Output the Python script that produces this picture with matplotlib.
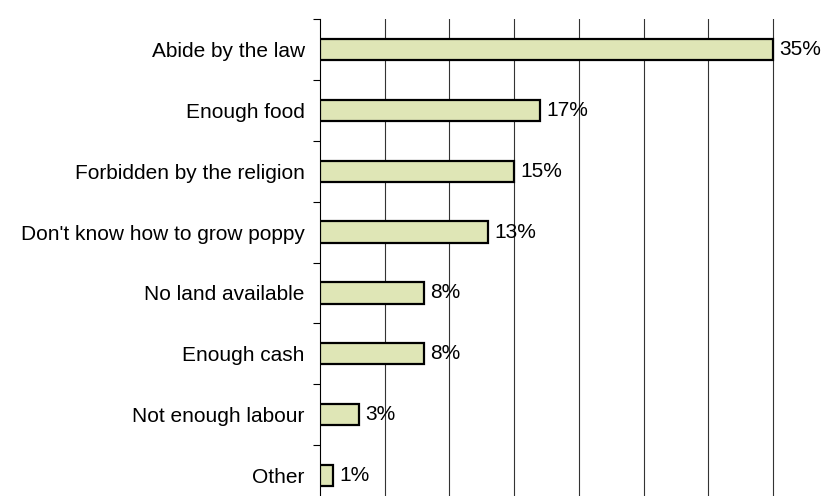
import matplotlib.pyplot as plt
import numpy as np

plt.rcParams['font.family'] = ['Liberation Sans', 'DejaVu Sans']

categories = ['Abide by the law', 'Enough food', 'Forbidden by the religion',
              "Don't know how to grow poppy", 'No land available', 'Enough cash',
              'Not enough labour', 'Other']
values = [35, 17, 15, 13, 8, 8, 3, 1]

fig = plt.figure(figsize=(8.32, 4.96), dpi=100)
ax = fig.add_axes([320/832, 1 - 506/496, (775-320)/832, (506-19)/496])

y = np.arange(len(categories))
ax.barh(y, values, height=0.35, color='#DFE6B6', edgecolor='black', linewidth=1.6, zorder=3)

for yi, v in zip(y, values):
    ax.text(v + 0.5, yi, f'{v}%', va='center', ha='left', fontsize=15, zorder=4)

ax.set_xlim(0, 35 * 455 / 453)
ax.set_ylim(len(categories) - 0.5, -0.5)

ax.set_xticks(np.arange(5, 36, 5))
ax.tick_params(axis='x', length=0, labelbottom=False)
ax.grid(axis='x', color='#333333', linewidth=0.8, zorder=0)

ax.set_yticks(np.arange(-0.5, len(categories), 1))
ax.set_yticklabels([])
ax.tick_params(axis='y', which='major', length=5, width=0.8, direction='out')
ax.set_yticks(y, minor=True)
ax.set_yticklabels(categories, minor=True, fontsize=15)
ax.tick_params(axis='y', which='minor', length=0, pad=11)

for s in ['top', 'right', 'bottom']:
    ax.spines[s].set_visible(False)
ax.spines['left'].set_linewidth(0.8)

fig.savefig('out.png', dpi=100)
